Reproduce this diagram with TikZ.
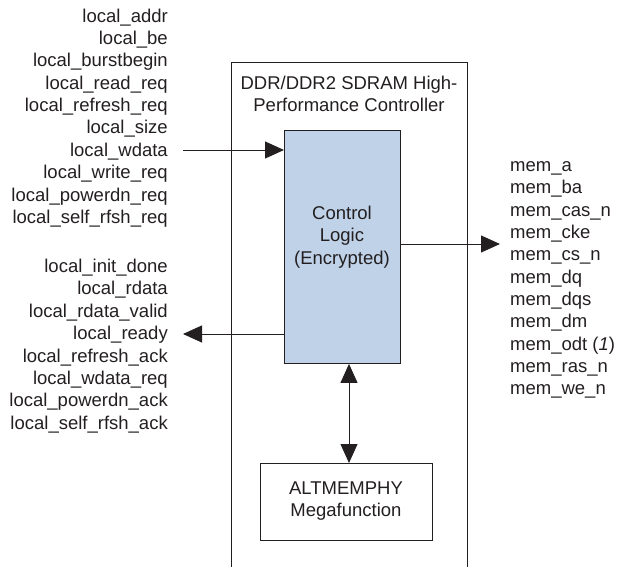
\documentclass[tikz,border=0pt]{standalone}
\usepackage{fontspec}
\setmainfont{Liberation Sans}
\usetikzlibrary{arrows.meta}
\definecolor{ctrlblue}{RGB}{191,210,232}
\definecolor{linegray}{RGB}{35,31,32}
\begin{document}
\begin{tikzpicture}[x=1pt,y=-1pt,
  every node/.style={font=\fontsize{18.5}{22.35}\selectfont, text=linegray, inner sep=0pt},
  boxline/.style={draw=linegray, line width=0.9pt},
  sig/.style={draw=linegray, line width=0.9pt, -{Triangle[length=19pt,width=17pt]}},
  dsig/.style={draw=linegray, line width=0.9pt, {Triangle[length=19pt,width=17pt]}-{Triangle[length=19pt,width=17pt]}},
  siglist/.style={align=#1}]
\useasboundingbox (0,0) rectangle (618,567);
% outer box (open at bottom)
\coordinate (obl) at (231,567);
\coordinate (otl) at (231,62);
\coordinate (otr) at (467,62);
\coordinate (obr) at (467,567);
\draw[boxline] (obl) -- (otl) -- (otr) -- (obr);
\node[align=center] (title) at (349,94) {DDR/DDR2 SDRAM High-\\Performance Controller};
% control logic
\node[boxline, fill=ctrlblue, minimum width=116pt, minimum height=233pt, anchor=north west, align=center] (ctrl) at (284,130) {};
\node[align=center] (ctrltext) at (342,237) {Control\\Logic\\(Encrypted)};
% altmemphy
\node[boxline, fill=white, minimum width=172pt, minimum height=77pt, anchor=north west, align=center] (alt) at (260,463) {};
\node[align=center] (alttext) at (346,501) {ALTMEMPHY\\Megafunction};
% signal lists
\node[siglist=right, anchor=east] (inlist) at (168,118) {local\_addr\\local\_be\\local\_burstbegin\\local\_read\_req\\local\_refresh\_req\\local\_size\\local\_wdata\\local\_write\_req\\local\_powerdn\_req\\local\_self\_rfsh\_req};
\node[siglist=right, anchor=east] (outlist) at (168,346) {local\_init\_done\\local\_rdata\\local\_rdata\_valid\\local\_ready\\local\_refresh\_ack\\local\_wdata\_req\\local\_powerdn\_ack\\local\_self\_rfsh\_ack};
\node[siglist=left, anchor=west] (memlist) at (510,280) {mem\_a\\mem\_ba\\mem\_cas\_n\\mem\_cke\\mem\_cs\_n\\mem\_dq\\mem\_dqs\\mem\_dm\\mem\_odt (\textit{1})\\mem\_ras\_n\\mem\_we\_n};
% connectors
\coordinate (inS) at (183,150);
\coordinate (outT) at (183,334);
\coordinate (memT) at (500,244);
\draw[sig] (inS) -- (inS -| ctrl.west);
\draw[sig] (outT -| ctrl.west) -- (outT);
\draw[sig] (memT -| ctrl.east) -- (memT);
\draw[dsig] (ctrl.south -| 349,0) -- (alt.north -| 349,0);
\end{tikzpicture}
\end{document}
